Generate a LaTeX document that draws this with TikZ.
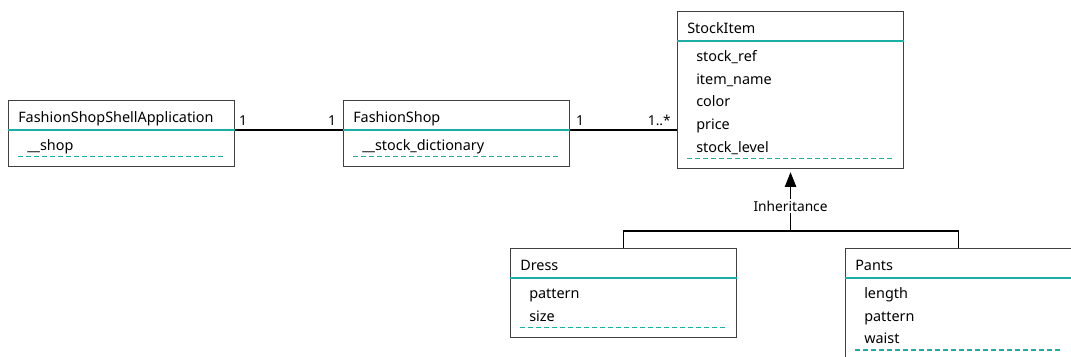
\documentclass[tikz,border=0pt]{standalone}
\usepackage{fontspec}
\setmainfont{Noto Sans}
\usetikzlibrary{positioning,arrows.meta}

\definecolor{umlteal}{RGB}{26,174,164}
\definecolor{umlframe}{RGB}{64,64,64}

\tikzset{
    umlclass/.style={draw=umlframe, line width=0.8pt, anchor=north west,
        minimum width=169.5pt, inner sep=0pt},
    classname/.style={anchor=base west, inner sep=0pt, font=\fontsize{10.8}{12}\selectfont},
    attrname/.style={classname},
    sepline/.style={umlteal, line width=0.9pt},
    endline/.style={umlteal, line width=0.9pt, dash pattern=on 3.75pt off 2.25pt},
    assoc/.style={black, line width=0.8pt},
    mult/.style={anchor=base, inner sep=0pt, font=\fontsize{10.3}{12}\selectfont},
    inherit/.style={assoc, -{Triangle[length=11pt,width=8.5pt]}, shorten >=2.5pt},
    inhlabel/.style={fill=white, inner sep=1.5pt, font=\fontsize{10.3}{12}\selectfont}
}

% name, x, y, number of attributes, class name, attributes
\newcommand{\classbox}[6]{
    \node[umlclass, minimum height={0.75*(66+(#4-1)*22.7)}] (#1) at (#2,#3) {};
    \node[classname] (#1-name) at ([shift={(10,22)}]#1.north west) {#5};
    \coordinate (#1-sep) at ([shift={(0,30)}]#1.north west);
    \draw[sepline] (#1-sep) -- (#1-sep -| #1.east);
    \foreach \a [count=\i] in {#6}
        \node[attrname] (#1-a\i) at ([shift={(19,{50.5+(\i-1)*22.7})}]#1.north west) {\a};
    \draw[endline] ([shift={(10,{56.5+(#4-1)*22.7})}]#1.north west)
        -- ([shift={(-10,{56.5+(#4-1)*22.7})}]#1.north east);
}

\begin{document}
\begin{tikzpicture}[x=0.75pt, y=-0.75pt]
    \useasboundingbox (0,0) rectangle (1071,357);

    \classbox{shell}{8}{100}{1}{FashionShopShellApplication}{\_\_shop}
    \classbox{shop}{343}{100}{1}{FashionShop}{\_\_stock\_dictionary}
    \classbox{stock}{677}{11}{5}{StockItem}{stock\_ref, item\_name, color, price, stock\_level}
    \classbox{dress}{510}{248}{2}{Dress}{pattern, size}
    \classbox{pants}{845}{248}{3}{Pants}{length, pattern, waist}

    % associations
    \draw[assoc] (shell.east |- shell-sep) -- (shop.west |- shell-sep);
    \draw[assoc] (shop.east |- shop-sep) -- (stock.west |- shop-sep);
    \node[mult] (m1) at (243,125) {1};
    \node[mult] (m2) at (332,125) {1};
    \node[mult] (m3) at (580,125) {1};
    \node[mult, anchor=base east] (m4) at (671,125) {1..*};

    % inheritance
    \path (stock.south |- dress.north) ++(0,-17) coordinate (bar);
    \draw[assoc] (dress.north) |- (bar) -| (pants.north);
    \draw[inherit] (bar) -- node[inhlabel, pos=0.4] (inh) {Inheritance} (stock.south);
\end{tikzpicture}
\end{document}
